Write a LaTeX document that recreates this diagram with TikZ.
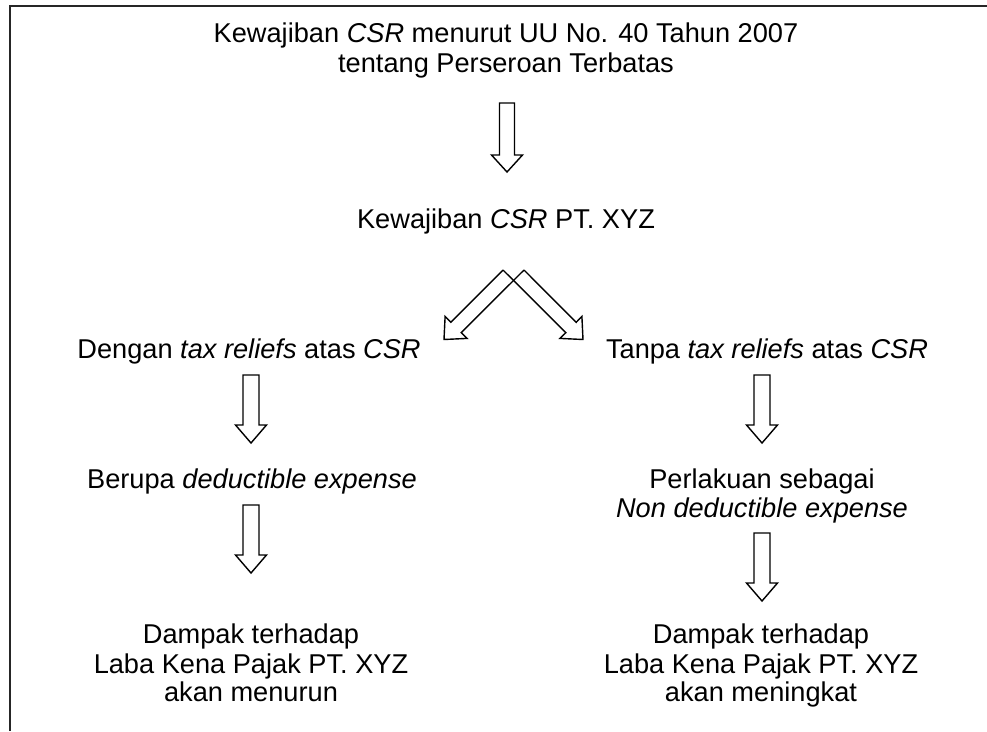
\documentclass[tikz,border=0pt]{standalone}
\usepackage{fontspec}
\setmainfont{Liberation Sans}
\usetikzlibrary{calc}
\tikzset{
  lbl/.style={anchor=base, inner sep=0pt, font=\fontsize{27.2}{29.5}\selectfont},
  blockarr/.style={draw=black, line width=1.4pt, line join=miter},
  frameline/.style={draw=black!85, line width=2pt}
}
% vertical block arrow: #1 tail coordinate, #2 tip coordinate, #3 shaft half width, #4 head half width, #5 head length
\newcommand\varrow[5]{%
  \draw[blockarr] ($(#1)+(-#3,0)$) -- ($(#2)+(-#3,-#5)$) -- ($(#2)+(-#4,-#5)$) -- (#2)
    -- ($(#2)+(#4,-#5)$) -- ($(#2)+(#3,-#5)$) -- ($(#1)+(#3,0)$) -- cycle;}
\begin{document}
\begin{tikzpicture}[x=1pt,y=-1pt]
\useasboundingbox (0,0) rectangle (987,731);
% frame
\draw[frameline] (10,731) -- (10,6) -- (987,6);

% texts
\node[lbl] (t1) at (506,42) {Kewajiban \textit{CSR} menurut UU No. 40 Tahun 2007};
\node[lbl] (t2) at (506,72) {tentang Perseroan Terbatas};
\node[lbl] (k) at (506,228) {Kewajiban \textit{CSR} PT. XYZ};
\node[lbl] (l1) at (249,358) {Dengan \textit{tax reliefs} atas \textit{CSR}};
\node[lbl] (r1) at (767,358) {Tanpa \textit{tax reliefs} atas \textit{CSR}};
\node[lbl] (l2) at (252,488) {Berupa \textit{deductible expense}};
\node[lbl] (r2a) at (762,488) {Perlakuan sebagai};
\node[lbl] (r2b) at (762,517) {\textit{Non deductible expense}};
\node[lbl] (l3a) at (251,643) {Dampak terhadap};
\node[lbl] (l3b) at (251,673) {Laba Kena Pajak PT. XYZ};
\node[lbl] (l3c) at (251,701) {akan menurun};
\node[lbl] (r3a) at (761,643) {Dampak terhadap};
\node[lbl] (r3b) at (761,673) {Laba Kena Pajak PT. XYZ};
\node[lbl] (r3c) at (761,701) {akan meningkat};

% arrow end points
\coordinate (a1s) at (507,103);  \coordinate (a1t) at (507,172);
\coordinate (al1s) at (251,375); \coordinate (al1t) at (251,443);
\coordinate (ar1s) at (762,375); \coordinate (ar1t) at (762,443);
\coordinate (al2s) at (251,505); \coordinate (al2t) at (251,573);
\coordinate (ar2s) at (762,533); \coordinate (ar2t) at (762,601);

\varrow{a1s}{a1t}{7.5}{15.5}{17}
\varrow{al1s}{al1t}{8}{15.5}{18}
\varrow{ar1s}{ar1t}{8}{15.5}{18}
\varrow{al2s}{al2t}{8}{15.5}{18}
\varrow{ar2s}{ar2t}{8}{15.5}{18}

% split arrows
\coordinate (sl) at (503,270); \coordinate (sr) at (524,270);
\coordinate (tipL) at (444,339.5); \coordinate (tipR) at (583,339.5);
\draw[blockarr] (sr) -- (461.2,332.7) -- (467.0,338.4) -- (tipL) -- (445.1,316.5) -- (450.8,322.3) -- (sl);
\draw[blockarr] (sl) -- (565.8,332.7) -- (560.0,338.4) -- (tipR) -- (581.9,316.5) -- (576.2,322.3) -- (sr);
\end{tikzpicture}
\end{document}
